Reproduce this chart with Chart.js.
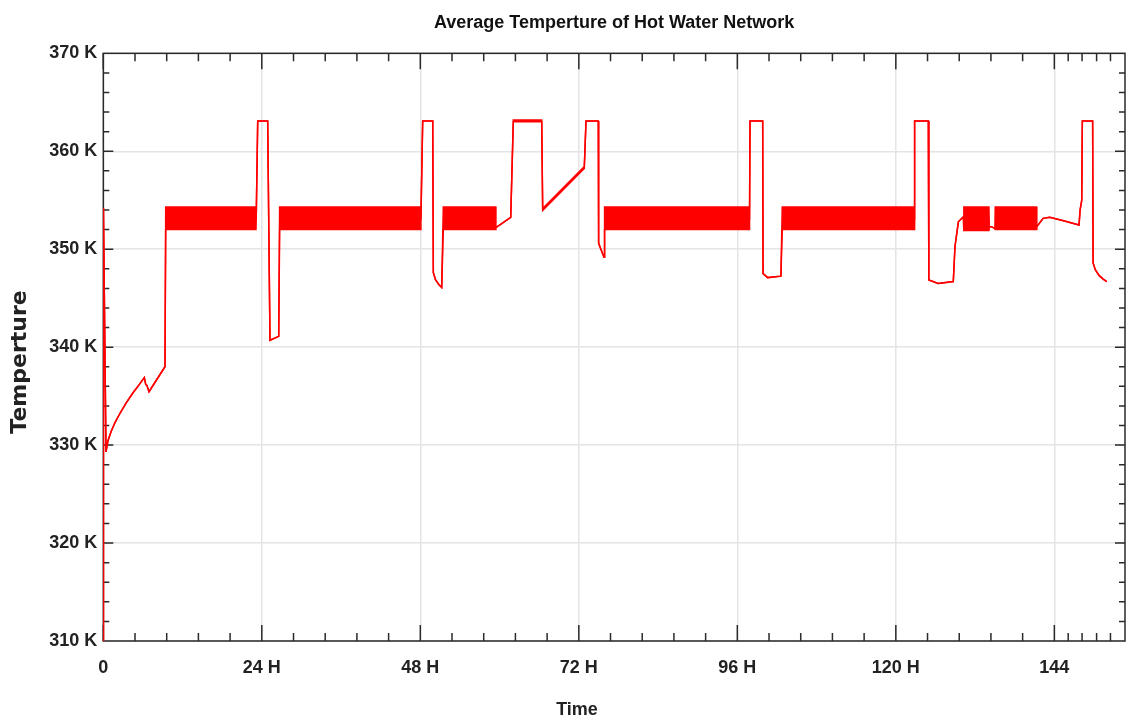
<!DOCTYPE html>
<html>
<head>
<meta charset="utf-8">
<title>Hot Water Network</title>
<script src="https://cdn.jsdelivr.net/npm/chart.js@4.4.1/dist/chart.umd.min.js"></script>
<style>
    html, body { margin: 0; padding: 0; background: #ffffff; }
    #wrap { width: 1133px; height: 723px; }
</style>
</head>
<body>
<div id="wrap"><canvas id="tempChart"></canvas></div>
<script>
// Network temperature trace (hours / kelvin). Where the pump cycles the
// temperature swings fast, so those stretches are kept as a high/low band.
const hours = [
    0, 0.02, 0.41, 0.71, 1.17, 1.77, 2.53, 3.44, 4.50, 5.41, 6.21, 6.42, 6.6, 6.92, 9.34,
    9.45, 23.12, 23.15, 23.38, 24.89, 25.24, 26.56,
    26.7, 48.06, 48.09, 48.36, 49.88, 49.97, 50.3, 50.8, 51.24,
    51.48, 59.42, 59.45, 61.69, 62.08, 66.38, 66.53, 72.83, 73.09, 74.95, 75.0, 75.4, 75.82,
    75.9, 97.82, 97.85, 97.92, 99.84, 99.9, 100.6, 102.6,
    102.8, 122.8, 122.83, 122.86, 124.92, 125.0, 126.4, 128.7, 128.96, 129.47, 130.2,
    130.3, 134.1, 134.15, 134.5, 135.0,
    135.05, 141.3, 141.35, 142.3, 143.3, 145.4, 147.74, 147.9, 148.15, 148.24, 149.8,
    149.87, 150.2, 150.8, 151.4, 151.94
];
const tempHigh = [
    310, 354.2, 329.3, 330.45, 331.36, 332.3, 333.25, 334.29, 335.34, 336.15, 336.9, 336.2, 336.1, 335.45, 338.0,
    354.3, 354.3, 353.0, 363.1, 363.1, 340.7, 341.1,
    354.3, 354.3, 353.0, 363.1, 363.1, 347.6, 346.9, 346.4, 346.1,
    354.3, 354.3, 352.2, 353.26, 363.2, 363.2, 354.15, 358.45, 363.1, 363.1, 350.6, 349.9, 349.17,
    354.3, 354.3, 353.0, 363.1, 363.1, 347.5, 347.1, 347.25,
    354.3, 354.3, 353.0, 363.1, 363.1, 346.85, 346.5, 346.7, 350.3, 352.8, 353.3,
    354.3, 354.3, 352.3, 352.3, 352.1,
    354.3, 354.3, 352.3, 353.15, 353.26, 352.9, 352.47, 354.0, 355.0, 363.1, 363.1,
    348.6, 347.9, 347.3, 346.95, 346.68
];
const tempLow = [
    310, 354.2, 329.3, 330.45, 331.36, 332.3, 333.25, 334.29, 335.34, 336.15, 336.9, 336.2, 336.1, 335.45, 338.0,
    352.0, 352.0, 353.0, 363.1, 363.1, 340.7, 341.1,
    352.0, 352.0, 353.0, 363.1, 363.1, 347.6, 346.9, 346.4, 346.1,
    352.0, 352.0, 352.2, 353.26, 363.0, 363.0, 353.95, 358.25, 363.1, 363.1, 350.6, 349.9, 349.17,
    352.0, 352.0, 353.0, 363.1, 363.1, 347.5, 347.1, 347.25,
    352.0, 352.0, 353.0, 363.1, 363.1, 346.85, 346.5, 346.7, 350.3, 352.8, 353.3,
    351.9, 351.9, 352.3, 352.3, 352.1,
    352.0, 352.0, 352.3, 353.15, 353.26, 352.9, 352.47, 354.0, 355.0, 363.1, 363.1,
    348.6, 347.9, 347.3, 346.95, 346.68
];

const xTickValues = [0, 24, 48, 72, 96, 120, 144];
const xTickLabels = ['0', '24 H', '48 H', '72 H', '96 H', '120 H', '144'];
const xMinorTail = [146.1, 148.2, 150.4, 152.5];
const yTickValues = [310, 320, 330, 340, 350, 360, 370];
const yTickLabels = ['310 K', '320 K', '330 K', '340 K', '350 K', '360 K', '370 K'];

const sans = "'Liberation Sans', Arial, sans-serif";
const RED = '#ff0000';

function series(values) {
    return hours.map((h, i) => ({ x: h, y: values[i] }));
}

// Box frame with inward ticks on all four sides, plus the axis titles
const frameTicks = {
    id: 'frameTicks',
    beforeDatasetsDraw(chart) {
        const { ctx, chartArea: a, scales: { x, y } } = chart;
        ctx.save();
        ctx.strokeStyle = '#2a2a2a';
        ctx.lineWidth = 1.5;
        ctx.strokeRect(a.left, a.top, a.right - a.left, a.bottom - a.top);

        ctx.beginPath();
        const xMinor = [];
        for (let v = 4.8; v < 144; v += 4.8) {
            if (Math.abs(v / 24 - Math.round(v / 24)) > 0.01) xMinor.push(v);
        }
        xMinor.concat(xMinorTail).forEach(v => {
            const p = x.getPixelForValue(v);
            ctx.moveTo(p, a.bottom); ctx.lineTo(p, a.bottom - 8);
            ctx.moveTo(p, a.top); ctx.lineTo(p, a.top + 8);
        });
        xTickValues.forEach(v => {
            const p = x.getPixelForValue(v);
            ctx.moveTo(p, a.bottom); ctx.lineTo(p, a.bottom - 16);
            ctx.moveTo(p, a.top); ctx.lineTo(p, a.top + 16);
        });
        for (let v = 312; v < 370; v += 2) {
            const p = y.getPixelForValue(v);
            const len = v % 10 === 0 ? 10 : 6;
            ctx.moveTo(a.left, p); ctx.lineTo(a.left + len, p);
            ctx.moveTo(a.right, p); ctx.lineTo(a.right - len, p);
        }
        ctx.stroke();
        ctx.restore();
    },
    afterDraw(chart) {
        const { ctx } = chart;
        ctx.save();
        ctx.fillStyle = '#222';
        ctx.textAlign = 'center';
        ctx.textBaseline = 'middle';
        ctx.font = 'bold 18px ' + sans;
        ctx.fillText('Time', 577, 710);
        ctx.translate(20, 362);
        ctx.rotate(-Math.PI / 2);
        ctx.font = "bold 22px 'DejaVu Sans', sans-serif";
        ctx.fillText('Temperture', 0, 0);
        ctx.restore();
    }
};

new Chart(document.getElementById('tempChart'), {
    type: 'line',
    data: {
        datasets: [{
            label: 'high',
            data: series(tempHigh),
            borderColor: RED,
            backgroundColor: RED,
            borderWidth: 1.5,
            fill: '+1',
            pointRadius: 0,
            tension: 0
        }, {
            label: 'low',
            data: series(tempLow),
            borderColor: RED,
            borderWidth: 1.5,
            fill: false,
            pointRadius: 0,
            tension: 0
        }]
    },
    options: {
        responsive: true,
        maintainAspectRatio: false,
        animation: false,
        layout: {
            padding: { left: 0, right: 8, top: 0, bottom: 0 }
        },
        plugins: {
            legend: { display: false },
            tooltip: { enabled: false },
            title: {
                display: true,
                fullSize: false,
                text: 'Average Temperture of Hot Water Network',
                color: '#111',
                font: { family: sans, size: 18, weight: 'bold', lineHeight: 1.2 },
                padding: { top: 12, bottom: 19.7 }
            }
        },
        scales: {
            x: {
                type: 'linear',
                min: 0,
                max: 154.7,
                afterBuildTicks: axis => { axis.ticks = xTickValues.map(v => ({ value: v })); },
                afterFit: scale => { scale.height = 82; },
                grid: { color: '#e4e4e4', lineWidth: 1.5, drawTicks: false },
                border: { display: false },
                ticks: {
                    padding: 16,
                    color: '#222',
                    maxRotation: 0,
                    autoSkip: false,
                    font: { family: sans, size: 18, weight: 'bold' },
                    callback: (v, i) => xTickLabels[i]
                }
            },
            y: {
                min: 310,
                max: 370,
                afterBuildTicks: axis => { axis.ticks = yTickValues.map(v => ({ value: v })); },
                afterFit: scale => { scale.width = 103.3; },
                grid: { color: '#e4e4e4', lineWidth: 1.5, drawTicks: false },
                border: { display: false },
                ticks: {
                    padding: 6,
                    color: '#222',
                    font: { family: sans, size: 18, weight: 'bold' },
                    callback: (v, i) => yTickLabels[i]
                }
            }
        }
    },
    plugins: [frameTicks]
});
</script>
</body>
</html>
